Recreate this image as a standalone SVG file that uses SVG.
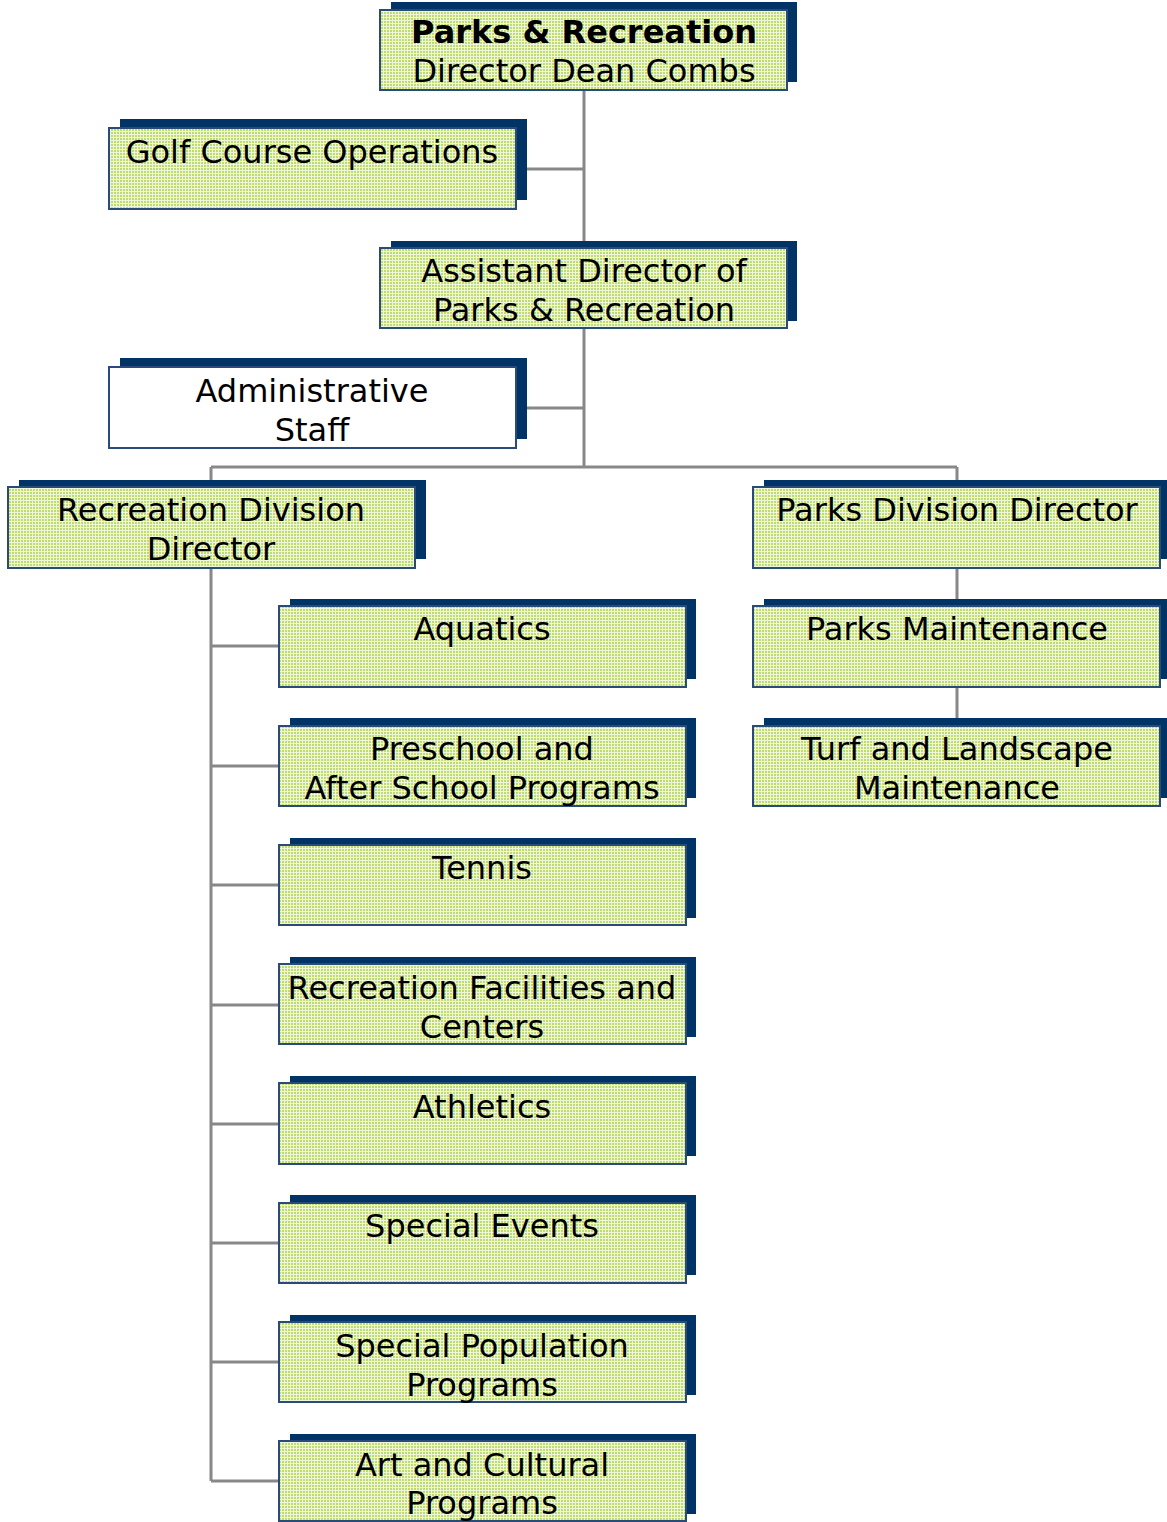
<svg xmlns="http://www.w3.org/2000/svg" width="1167" height="1522" viewBox="0 0 1167 1522">
<style>
.sh{fill:#003366}
.bx{fill:url(#dots);stroke:#2a4a78;stroke-width:2}
.wb{fill:#ffffff;stroke:#2a4a78;stroke-width:2}
.t{font-family:"DejaVu Sans",Verdana,sans-serif;font-size:32px;fill:#000;text-anchor:middle}
.b{font-weight:bold}
.c{stroke:#888888;stroke-width:3;fill:none}
</style>
<defs>
<pattern id="dots" width="3" height="3" patternUnits="userSpaceOnUse">
<rect width="3" height="3" fill="#f0f6da"/>
<rect width="2" height="2" fill="#bedc6c"/>
</pattern>
</defs>
<rect width="1167" height="1522" fill="#ffffff"/>
<g id="connectors">
<path class="c" d="M584 90V467M527 169H584M527 408H584M211 467H957M211 467V487M957 467V487"/>
<path class="c" d="M211 568V1481M211 646H279M211 766H279M211 885H279M211 1005H279M211 1124H279M211 1243H279M211 1362H279M211 1481H279"/>
<path class="c" d="M957 568V606M957 687V726"/>
</g>
<g id="director"><rect class="sh" x="391" y="2" width="406" height="80"/><rect class="bx" x="380" y="10" width="407" height="80"/>
<text class="t b" x="584" y="43">Parks &amp; Recreation</text><text class="t" x="584" y="82">Director Dean Combs</text></g>
<g id="golf"><rect class="sh" x="120" y="119" width="407" height="81"/><rect class="bx" x="109" y="128" width="407" height="81"/>
<text class="t" x="312" y="163">Golf Course Operations</text></g>
<g id="assistant"><rect class="sh" x="391" y="241" width="406" height="80"/><rect class="bx" x="380" y="248" width="407" height="80"/>
<text class="t" x="584" y="282">Assistant Director of</text><text class="t" x="584" y="321">Parks &amp; Recreation</text></g>
<g id="admin"><rect class="sh" x="120" y="358" width="407" height="81"/><rect class="wb" x="109" y="367" width="407" height="81"/>
<text class="t" x="312" y="402">Administrative</text><text class="t" x="312" y="441">Staff</text></g>
<g id="recdiv"><rect class="sh" x="19" y="480" width="407" height="79"/><rect class="bx" x="8" y="487" width="407" height="81"/>
<text class="t" x="211" y="521">Recreation Division</text><text class="t" x="211" y="560">Director</text></g>
<g id="parksdiv"><rect class="sh" x="764" y="480" width="403" height="79"/><rect class="bx" x="753" y="487" width="407" height="81"/>
<text class="t" x="957" y="521">Parks Division Director</text></g>
<g id="parksmaint"><rect class="sh" x="764" y="599" width="403" height="80"/><rect class="bx" x="753" y="606" width="407" height="81"/>
<text class="t" x="957" y="640">Parks Maintenance</text></g>
<g id="turf"><rect class="sh" x="764" y="718" width="403" height="80"/><rect class="bx" x="753" y="726" width="407" height="80"/>
<text class="t" x="957" y="760">Turf and Landscape</text><text class="t" x="957" y="799">Maintenance</text></g>
<g id="aquatics"><rect class="sh" x="290" y="599" width="406" height="80"/><rect class="bx" x="279" y="606" width="407" height="81"/>
<text class="t" x="482" y="640">Aquatics</text></g>
<g id="preschool"><rect class="sh" x="290" y="718" width="406" height="80"/><rect class="bx" x="279" y="726" width="407" height="80"/>
<text class="t" x="482" y="760">Preschool and</text><text class="t" x="482" y="799">After School Programs</text></g>
<g id="tennis"><rect class="sh" x="290" y="838" width="406" height="80"/><rect class="bx" x="279" y="845" width="407" height="80"/>
<text class="t" x="482" y="879">Tennis</text></g>
<g id="facilities"><rect class="sh" x="290" y="957" width="406" height="80"/><rect class="bx" x="279" y="964" width="407" height="80"/>
<text class="t" x="482" y="999">Recreation Facilities and</text><text class="t" x="482" y="1038">Centers</text></g>
<g id="athletics"><rect class="sh" x="290" y="1076" width="406" height="80"/><rect class="bx" x="279" y="1083" width="407" height="81"/>
<text class="t" x="482" y="1118">Athletics</text></g>
<g id="events"><rect class="sh" x="290" y="1195" width="406" height="80"/><rect class="bx" x="279" y="1203" width="407" height="80"/>
<text class="t" x="482" y="1237">Special Events</text></g>
<g id="specialpop"><rect class="sh" x="290" y="1315" width="406" height="80"/><rect class="bx" x="279" y="1322" width="407" height="80"/>
<text class="t" x="482" y="1357">Special Population</text><text class="t" x="482" y="1396">Programs</text></g>
<g id="art"><rect class="sh" x="290" y="1434" width="406" height="80"/><rect class="bx" x="279" y="1441" width="407" height="80"/>
<text class="t" x="482" y="1476">Art and Cultural</text><text class="t" x="482" y="1514">Programs</text></g>
</svg>
